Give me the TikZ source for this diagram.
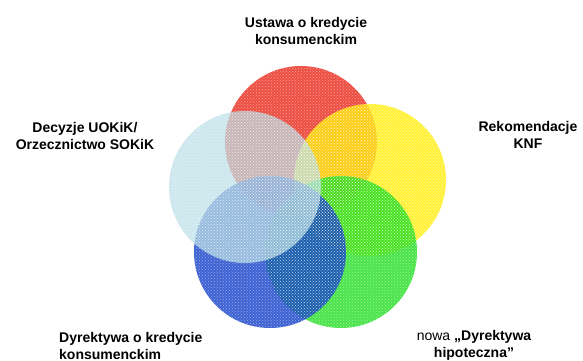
\documentclass[tikz,border=0pt]{standalone}
\usepackage{fontspec}
\setmainfont{Liberation Sans}
\usetikzlibrary{patterns}
\definecolor{cred}{RGB}{232,35,20}
\definecolor{cyellow}{RGB}{255,238,10}
\definecolor{cgreen}{RGB}{30,222,30}
\definecolor{cblue}{RGB}{15,60,200}
\definecolor{clight}{RGB}{185,222,230}
\begin{document}
\begin{tikzpicture}[x=1pt,y=-1pt,
  circ/.style={circle, minimum size=152pt, inner sep=0pt, fill opacity=0.8},
  dots/.style={circle, minimum size=152pt, inner sep=0pt, pattern=crosshatch dots, pattern color=white, fill opacity=0.45},
  lbl/.style={font=\fontsize{14}{17}\selectfont\bfseries, align=center, inner sep=0pt}]
\useasboundingbox (0,0) rectangle (583,361);
\node[circ, fill=cred]    (red)    at (301,142) {};
\node[circ, fill=cyellow] (yellow) at (370,180) {};
\node[circ, fill=cgreen]  (green)  at (341,252) {};
\node[circ, fill=cblue]   (blue)   at (270,252) {};
\node[circ, fill=clight, fill opacity=0.72] (light) at (245,187) {};
\foreach \p in {(301,142),(370,180),(341,252),(270,252),(245,187)}
  \node[dots] at \p {};
\node[lbl] (tred) at (306,31) {Ustawa o kredycie\\konsumenckim};
\node[lbl] (tlight) at (85,135.5) {Decyzje UOKiK/\\Orzecznictwo SOKiK};
\node[lbl] (tyellow) at (528,135) {Rekomendacje\\KNF};
\node[lbl, align=left, anchor=west] (tblue) at (59,345.5) {Dyrektywa o kredycie\\konsumenckim};
\node[lbl] (tgreen) at (474,345.5) {{\mdseries nowa} „Dyrektywa\\hipoteczna”};
\end{tikzpicture}
\end{document}
